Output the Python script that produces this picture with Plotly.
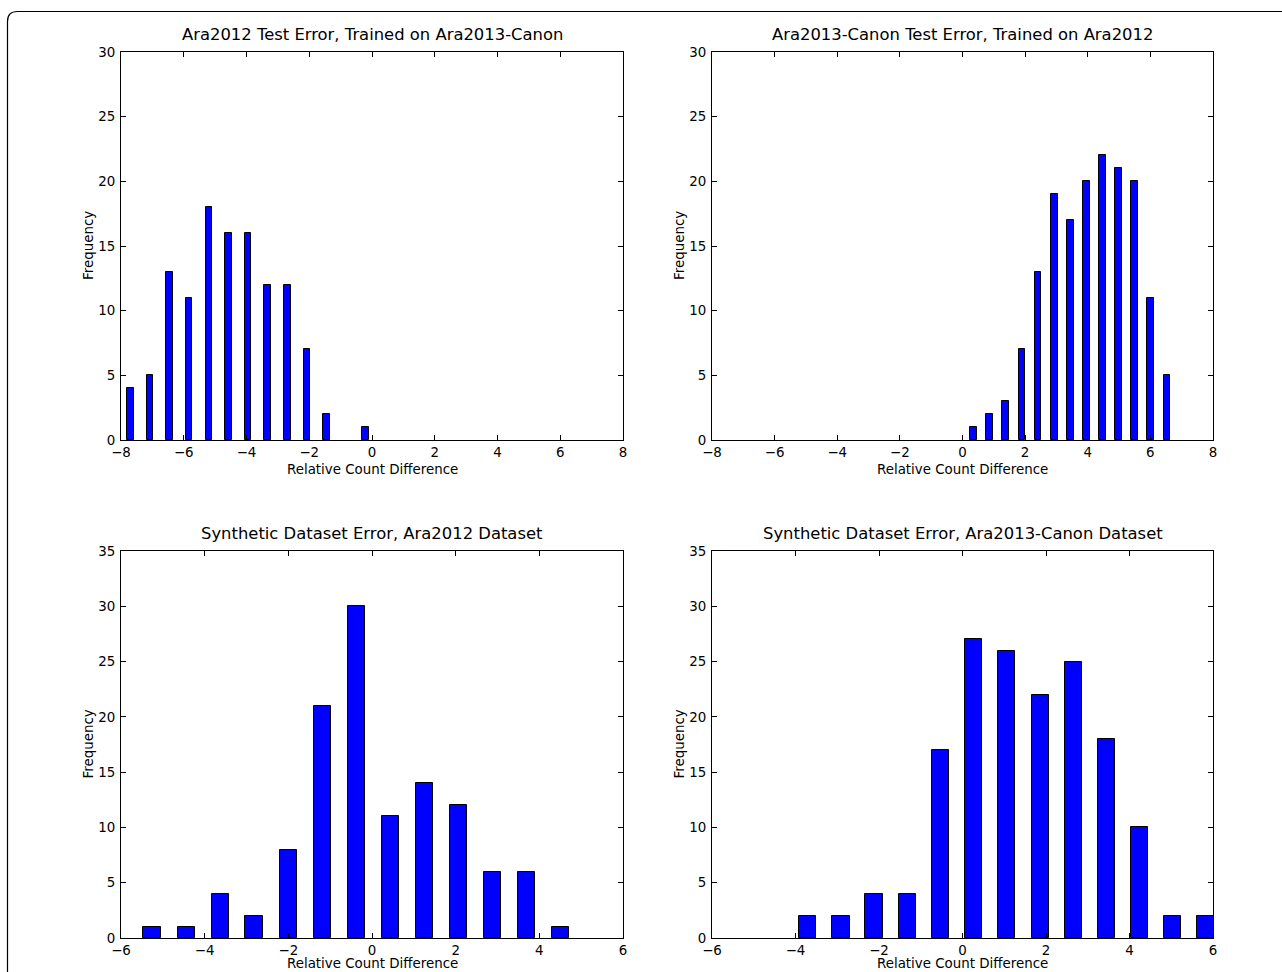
import plotly.graph_objects as go

# ---- data ----
titles = [
    "Ara2012 Test Error, Trained on Ara2013-Canon",
    "Ara2013-Canon Test Error, Trained on Ara2012",
    "Synthetic Dataset Error, Ara2012 Dataset",
    "Synthetic Dataset Error, Ara2013-Canon Dataset",
]
x_title = "Relative Count Difference"
y_title = "Frequency"

tl_x = [-7.70, -7.08, -6.45, -5.83, -5.20, -4.58, -3.95, -3.33, -2.70, -2.07, -1.45, -0.20]
tl_y = [4, 5, 13, 11, 18, 16, 16, 12, 12, 7, 2, 1]

tr_x = [0.36, 0.86, 1.38, 1.90, 2.41, 2.93, 3.45, 3.96, 4.47, 4.99, 5.50, 6.01, 6.53]
tr_y = [1, 2, 3, 7, 13, 19, 17, 20, 22, 21, 20, 11, 5]

bl_x = [-5.26, -4.44, -3.63, -2.82, -2.00, -1.18, -0.37, 0.44, 1.26, 2.07, 2.88, 3.70, 4.51]
bl_y = [1, 1, 4, 2, 8, 21, 30, 11, 14, 12, 6, 6, 1]

br_x = [-3.71, -2.91, -2.12, -1.32, -0.53, 0.27, 1.06, 1.86, 2.65, 3.44, 4.24, 5.04, 5.83]
br_y = [2, 2, 4, 4, 17, 27, 26, 22, 25, 18, 10, 2, 2]

top_xticks = [-8, -6, -4, -2, 0, 2, 4, 6, 8]
top_yticks = [0, 5, 10, 15, 20, 25, 30]
bot_xticks = [-6, -4, -2, 0, 2, 4, 6]
bot_yticks = [0, 5, 10, 15, 20, 25, 30, 35]

# ---- geometry / style ----
W, H = 1282, 972
FONT = "DejaVu Sans"
BAR_W_TOP = 0.21
BAR_W_BOT = 0.41
TICK_SIZE = 13.4
LABEL_SIZE = 13.4
TITLE_SIZE = 16.4


def px_x(X):
    return X / W


def px_y(Y):
    return 1 - Y / H


panels = [
    dict(x=tl_x, y=tl_y, w=BAR_W_TOP, xd=(121, 623), yd=(52, 440), xr=[-8, 8], yr=[0, 30],
         xt=top_xticks, yt=top_yticks, xlab=469),
    dict(x=tr_x, y=tr_y, w=BAR_W_TOP, xd=(712, 1213), yd=(52, 440), xr=[-8, 8], yr=[0, 30],
         xt=top_xticks, yt=top_yticks, xlab=469),
    dict(x=bl_x, y=bl_y, w=BAR_W_BOT, xd=(121, 623), yd=(551, 938), xr=[-6, 6], yr=[0, 35],
         xt=bot_xticks, yt=bot_yticks, xlab=963),
    dict(x=br_x, y=br_y, w=BAR_W_BOT, xd=(712, 1213), yd=(551, 938), xr=[-6, 6], yr=[0, 35],
         xt=bot_xticks, yt=bot_yticks, xlab=963),
]

fig = go.Figure()
annotations = []
layout = {}

for i, p in enumerate(panels):
    n = "" if i == 0 else str(i + 1)
    xa, ya = "x" + n, "y" + n
    fig.add_trace(go.Bar(
        x=p["x"], y=p["y"], width=[p["w"]] * len(p["x"]),
        marker=dict(color="#0000ff", line=dict(color="black", width=1)),
        xaxis=xa, yaxis=ya, showlegend=False, hoverinfo="x+y",
    ))
    axis_common = dict(
        showline=True, linecolor="black", linewidth=1, mirror="ticks",
        ticks="inside", ticklen=5, tickwidth=1, tickcolor="black",
        showgrid=False, zeroline=False, automargin=False,
        tickfont=dict(family=FONT, size=TICK_SIZE, color="black"),
    )
    layout["xaxis" + n] = dict(
        domain=[px_x(p["xd"][0]), px_x(p["xd"][1])], range=p["xr"],
        tickmode="array", tickvals=p["xt"], anchor=ya, **axis_common,
    )
    layout["yaxis" + n] = dict(
        domain=[px_y(p["yd"][1]), px_y(p["yd"][0])], range=p["yr"],
        tickmode="array", tickvals=p["yt"], anchor=xa, ticklabelstandoff=2, **axis_common,
    )
    cx = (p["xd"][0] + p["xd"][1]) / 2
    cy = (p["yd"][0] + p["yd"][1]) / 2
    annotations.append(dict(
        text=titles[i], x=px_x(cx), y=px_y(p["yd"][0] - 18), xref="paper", yref="paper",
        xanchor="center", yanchor="middle", showarrow=False,
        font=dict(family=FONT, size=TITLE_SIZE, color="black"),
    ))
    annotations.append(dict(
        text=x_title, x=px_x(cx), y=px_y(p["xlab"]), xref="paper", yref="paper",
        xanchor="center", yanchor="middle", showarrow=False,
        font=dict(family=FONT, size=LABEL_SIZE, color="black"),
    ))
    annotations.append(dict(
        text=y_title, x=px_x(p["xd"][0] - 33), y=px_y(cy), xref="paper", yref="paper",
        xanchor="center", yanchor="middle", showarrow=False, textangle=-90,
        font=dict(family=FONT, size=LABEL_SIZE, color="black"),
    ))

# outer rounded frame (extends beyond the right and bottom edges)
fx0, fy0, r = 7.5, 11.5, 10
frame_path = (
    f"M {px_x(fx0)},{px_y(H + 20)} L {px_x(fx0)},{px_y(fy0 + r)} "
    f"Q {px_x(fx0)},{px_y(fy0)} {px_x(fx0 + r)},{px_y(fy0)} L {px_x(W + 20)},{px_y(fy0)}"
)

fig.update_layout(
    width=W, height=H, autosize=False,
    margin=dict(l=0, r=0, t=0, b=0, pad=0, autoexpand=False),
    paper_bgcolor="white", plot_bgcolor="white",
    font=dict(family=FONT, color="black"),
    bargap=0, annotations=annotations,
    shapes=[dict(type="path", path=frame_path, xref="paper", yref="paper",
                 line=dict(color="black", width=1.2))],
    **layout,
)

fig.write_html(
    "out.html",
    config={"displayModeBar": False},
    post_script="document.body.style.margin='0';document.body.style.overflow='hidden';",
)
